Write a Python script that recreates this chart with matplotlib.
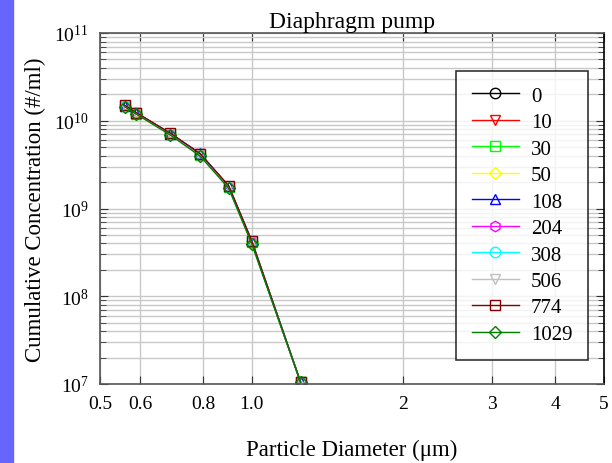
import matplotlib.pyplot as plt
import matplotlib.patches as mpatches
from matplotlib.ticker import FixedLocator, FixedFormatter, LogLocator, NullFormatter

plt.rcParams['font.family'] = ['Liberation Serif', 'DejaVu Serif']
plt.rcParams['mathtext.fontset'] = 'stix'

# particle diameter (um)
diameter = [0.56, 0.59, 0.69, 0.79, 0.90, 1.00, 1.25]

labels = ['0', '10', '30', '50', '108', '204', '308', '506', '774', '1029']
conc = [
    [1.47e10, 1.21e10, 7.05e9, 4.10e9, 1.76e9, 4.15e8, 1.05e7],
    [1.48e10, 1.22e10, 7.10e9, 4.15e9, 1.78e9, 4.20e8, 1.05e7],
    [1.46e10, 1.20e10, 7.00e9, 4.05e9, 1.74e9, 4.10e8, 1.05e7],
    [1.47e10, 1.21e10, 7.05e9, 4.12e9, 1.77e9, 4.18e8, 1.05e7],
    [1.49e10, 1.23e10, 7.15e9, 4.25e9, 1.80e9, 4.30e8, 1.05e7],
    [1.47e10, 1.22e10, 7.05e9, 4.12e9, 1.76e9, 4.15e8, 1.05e7],
    [1.48e10, 1.22e10, 7.10e9, 4.15e9, 1.78e9, 4.25e8, 1.05e7],
    [1.46e10, 1.21e10, 7.00e9, 4.08e9, 1.75e9, 4.12e8, 1.05e7],
    [1.50e10, 1.24e10, 7.20e9, 4.20e9, 1.82e9, 4.28e8, 1.05e7],
    [1.44e10, 1.19e10, 6.85e9, 3.95e9, 1.70e9, 3.95e8, 1.05e7],
]
colors = ['black', 'red', 'lime', 'yellow', 'blue', 'magenta', 'cyan',
          '#c0c0c0', '#800000', '#008000']
markers = ['o', 'v', 's', 'D', '^', 'h', 'o', 'v', 's', 'D']

xticks = [0.5, 0.6, 0.8, 1.0, 2, 3, 4, 5]
xticklabels = ['0.5', '0.6', '0.8', '1.0', '2', '3', '4', '5']

fig = plt.figure(figsize=(6.12, 4.64), dpi=100)
fig.patches.append(mpatches.Rectangle((0, 0), 13 / 612, 1, transform=fig.transFigure,
                                      color='#6666ff', zorder=0))
ax = fig.add_axes([100 / 612, 79 / 464, 504 / 612, 351 / 464])

for y, c, m, lab in zip(conc, colors, markers, labels):
    ms = 6.5 if m == 'D' else 7.5
    ax.plot(diameter, y, color=c, marker=m, mfc='none', mec=c, ms=ms,
            lw=1, label=lab)

ax.set_xscale('log')
ax.set_yscale('log')
ax.set_xlim(0.5, 5)
ax.set_ylim(1e7, 1e11)

ax.xaxis.set_major_locator(FixedLocator(xticks))
ax.xaxis.set_major_formatter(FixedFormatter(xticklabels))
ax.xaxis.set_minor_locator(FixedLocator([]))
ax.xaxis.set_minor_formatter(NullFormatter())
ax.yaxis.set_major_locator(LogLocator(base=10, numticks=10))
ax.yaxis.set_minor_locator(LogLocator(base=10, subs=range(2, 10), numticks=10))

ax.grid(True, which='major', color='#c8c8c8', lw=1)
ax.grid(True, which='minor', axis='y', color='#c8c8c8', lw=1)
ax.set_axisbelow(True)

ax.tick_params(which='both', direction='in', top=True, right=True,
               labelsize=14, pad=8, colors='#333333', labelcolor='black')
ax.tick_params(which='major', length=6)
ax.tick_params(which='minor', length=4)
for s in ax.spines.values():
    s.set_color('#555555')
    s.set_linewidth(1.2)
ax.spines['right'].set_color('black')

ax.set_title('Diaphragm pump', fontsize=17, pad=4)
ax.set_xlabel('Particle Diameter (\u03bcm)', fontsize=16.5, labelpad=19)
ax.set_ylabel('Cumulative Concentration (#/ml)', fontsize=16.5, labelpad=6)

leg = ax.legend(loc='upper right', bbox_to_anchor=(0.9683, 0.893), fontsize=15,
                frameon=True, fancybox=False, edgecolor='black',
                handlelength=2.3, labelspacing=0.33, borderpad=0.75,
                handletextpad=0.55, borderaxespad=0)
leg.get_frame().set_linewidth(1.2)

fig.savefig('out.png', dpi=100)
